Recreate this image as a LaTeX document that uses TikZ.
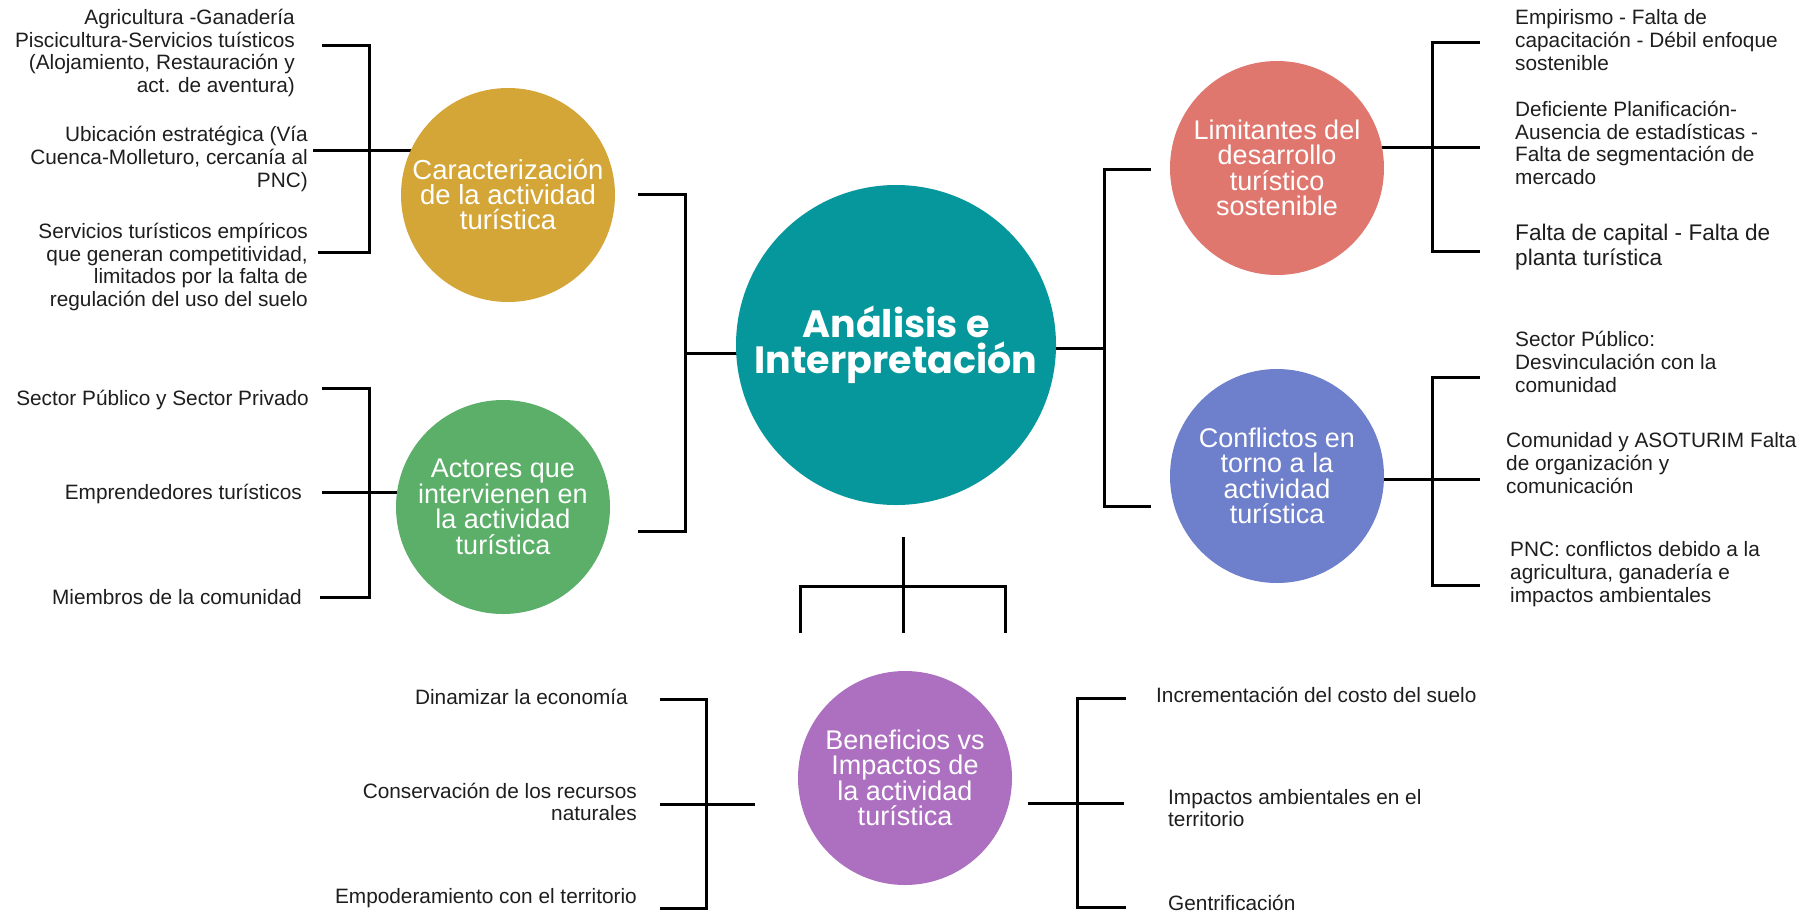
\documentclass[tikz,border=0pt]{standalone}
\usepackage{fontspec}
\setmainfont{Liberation Sans}
\newfontfamily\popfont{Poppins}
\pgfdeclarelayer{bg}
\pgfsetlayers{bg,main}
\definecolor{cteal}{HTML}{05979B}
\definecolor{cgold}{HTML}{D4A537}
\definecolor{cgreen}{HTML}{5BAF69}
\definecolor{cred}{HTML}{E0776F}
\definecolor{cblue}{HTML}{6E7FCB}
\definecolor{cpurple}{HTML}{AD6FC0}
\definecolor{ctext}{HTML}{1E1E1E}
\begin{document}
\begin{tikzpicture}[x=1pt,y=-1pt,
  lnk/.style={line width=3pt, black, line join=miter},
  bub/.style={circle, minimum size=214pt, inner sep=0pt, text=white, align=center,
              font=\fontsize{27}{25.5}\selectfont},
  item/.style={text=ctext, font=\fontsize{20.8}{22.7}\selectfont, inner sep=0pt},
  lft/.style={item, align=right, anchor=east},
  rgt/.style={item, align=left, anchor=west}]
\useasboundingbox (0,0) rectangle (1820,914);

% circles
\node[bub, fill=cteal, minimum size=320pt, font=\popfont\bfseries\fontsize{38}{35.5}\selectfont] (central) at (896,345) {Análisis e\\Interpretación};
\node[bub, fill=cgold, font=\fontsize{27.5}{25}\selectfont] (gold) at (508,195) {Caracterización\\de la actividad\\turística};
\node[bub, fill=cgreen] (green) at (503,507) {Actores que\\intervienen en\\la actividad\\turística};
\node[bub, fill=cred] (red) at (1277,168) {Limitantes del\\desarrollo\\turístico\\sostenible};
\node[bub, fill=cblue] (blue) at (1277,476) {Conflictos en\\torno a la\\actividad\\turística};
\node[bub, fill=cpurple] (purple) at (905,778) {Beneficios vs\\Impactos de\\la actividad\\turística};

% text items
\node[lft] (g1) at (295,53) {Agricultura -Ganadería\\Piscicultura-Servicios tuísticos\\(Alojamiento, Restauración y\\act. de aventura)};
\node[lft] (g2) at (308,159) {Ubicación estratégica (Vía\\Cuenca-Molleturo, cercanía al\\PNC)};
\node[lft] (g3) at (308,267) {Servicios turísticos empíricos\\que generan competitividad,\\limitados por la falta de\\regulación del uso del suelo};
\node[lft] (a1) at (309,400) {Sector Público y Sector Privado};
\node[lft] (a2) at (302,494) {Emprendedores turísticos};
\node[lft] (a3) at (302,597) {Miembros de la comunidad};
\node[rgt] (l1) at (1515,40) {Empirismo - Falta de\\capacitación - Débil enfoque\\sostenible};
\node[rgt] (l2) at (1515,143) {Deficiente Planificación-\\Ausencia de estadísticas -\\Falta de segmentación de\\mercado};
\node[rgt, font=\fontsize{22.6}{24.5}\selectfont] (l3) at (1515,247) {Falta de capital - Falta de\\planta turística};
\node[rgt] (c1) at (1515,362) {Sector Público:\\Desvinculación con la\\comunidad};
\node[rgt] (c2) at (1506,463) {Comunidad y ASOTURIM Falta\\de organización y\\comunicación};
\node[rgt] (c3) at (1510,574) {PNC: conflictos debido a la\\agricultura, ganadería e\\impactos ambientales};
\node[lft] (b1) at (628,697) {Dinamizar la economía};
\node[lft] (b2) at (637,802) {Conservación de los recursos\\naturales};
\node[lft] (b3) at (637,898) {Empoderamiento con el territorio};
\node[rgt] (i1) at (1156,695) {Incrementación del costo del suelo};
\node[rgt] (i2) at (1168,808) {Impactos ambientales en el\\territorio};
\node[rgt] (i3) at (1168,903) {Gentrificación};

% bracket coordinates
\coordinate (gT) at (322,45);  \coordinate (gM) at (313,150); \coordinate (gB) at (318,252); \coordinate (gX) at (369,0);
\coordinate (aT) at (322,388); \coordinate (aM) at (322,492); \coordinate (aB) at (320,597); \coordinate (aX) at (369,0);
\coordinate (kT) at (638,194); \coordinate (kM) at (685,353); \coordinate (kB) at (638,531); \coordinate (kX) at (685,0);
\coordinate (rT) at (1151,169); \coordinate (rM) at (1104,348); \coordinate (rB) at (1151,506); \coordinate (rX) at (1104,0);
\coordinate (lT) at (1480,42); \coordinate (lM) at (1480,147); \coordinate (lB) at (1480,251); \coordinate (lX) at (1432,0);
\coordinate (cT) at (1480,377); \coordinate (cM) at (1480,479); \coordinate (cB) at (1480,585); \coordinate (cX) at (1432,0);
\coordinate (dTop) at (903,537); \coordinate (dMid) at (903,586); \coordinate (dBot) at (903,633);
\coordinate (dL) at (800,633); \coordinate (dR) at (1005,633);
\coordinate (bT) at (660,699); \coordinate (bM) at (660,804); \coordinate (bB) at (660,908); \coordinate (bX) at (706,0); \coordinate (bE) at (755,804);
\coordinate (iT) at (1126,698); \coordinate (iM) at (1028,803); \coordinate (iB) at (1126,907); \coordinate (iX) at (1077,0); \coordinate (iE) at (1124,803);

\begin{pgfonlayer}{bg}
\fill[white] (0,0) rectangle (1820,914);
% gold
\draw[lnk] (gT) -- (gT -| gX) -- (gB -| gX) -- (gB);
\draw[lnk] (gM) -- (gM -| gold.center);
% green
\draw[lnk] (aT) -- (aT -| aX) -- (aB -| aX) -- (aB);
\draw[lnk] (aM) -- (aM -| green.center);
% central left
\draw[lnk] (kT) -- (kT -| kX) -- (kB -| kX) -- (kB);
\draw[lnk] (kM) -- (kM -| central.center);
% central right
\draw[lnk] (rT) -- (rT -| rX) -- (rB -| rX) -- (rB);
\draw[lnk] (rM) -- (rM -| central.center);
% red
\draw[lnk] (lT) -- (lT -| lX) -- (lB -| lX) -- (lB);
\draw[lnk] (lM) -- (lM -| red.center);
% blue
\draw[lnk] (cT) -- (cT -| cX) -- (cB -| cX) -- (cB);
\draw[lnk] (cM) -- (cM -| blue.center);
% bottom tree
\draw[lnk] (dTop) -- (dBot);
\draw[lnk] (dL) -- (dL |- dMid) -- (dR |- dMid) -- (dR);
% bottom left
\draw[lnk] (bT) -- (bT -| bX) -- (bB -| bX) -- (bB);
\draw[lnk] (bM) -- (bE);
% bottom right
\draw[lnk] (iT) -- (iT -| iX) -- (iB -| iX) -- (iB);
\draw[lnk] (iM) -- (iE);
\end{pgfonlayer}
\end{tikzpicture}
\end{document}
